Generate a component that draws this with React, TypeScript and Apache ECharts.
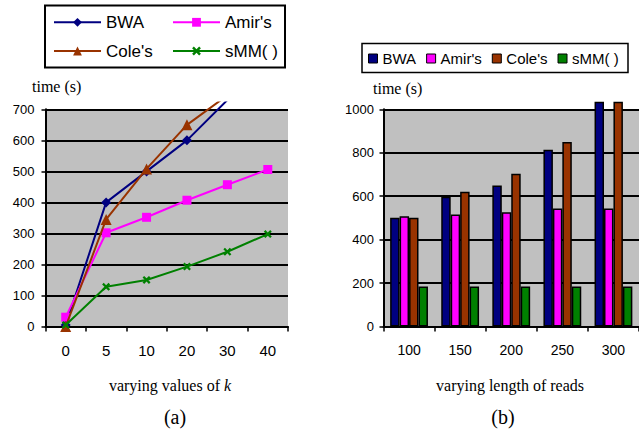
import React, { useEffect, useRef } from 'react';
import * as echarts from 'echarts';

const W = 639;
const H = 429;

// ---- data: chart (a) ----
const kLabels = ['0', '5', '10', '20', '30', '40'];
const bwaK = [5, 400, 500, 600, 730, 850];
const amirK = [30, 302, 352, 407, 457, 506];
const coleK = [0, 345, 508, 650, 745, 870];
const smmK = [5, 128, 150, 193, 241, 298];

// ---- data: chart (b) ----
const readLabels = ['100', '150', '200', '250', '300'];
const bwaR = [500, 597, 649, 814, 1300];
const amirR = [508, 515, 526, 543, 543];
const coleR = [500, 620, 703, 849, 1300];
const smmR = [184, 184, 184, 184, 184];

const names = ['BWA', "Amir's", "Cole's", 'sMM( )'];
const colors = ['#000080', '#FF00FF', '#993300', '#008000'];

const SANS = "'Liberation Sans', Arial, sans-serif";
const SERIF = "'Liberation Serif', 'Times New Roman', serif";
const X_MARK = 'path://M0,2L2,0L5,3L8,0L10,2L7,5L10,8L8,10L5,7L2,10L0,8L3,5Z';

const gridTop = 109.3;
const gridBottom = 102.5;
const clipTop = 102.5;

function buildOption() {
  const axisBlack = { color: '#000', width: 2 };
  const valueAxisVisible = (max: number, interval: number, margin: number) => ({
    type: 'value',
    min: 0,
    max,
    interval,
    axisLine: { show: true, lineStyle: axisBlack },
    axisTick: { show: true, length: 4, lineStyle: { color: '#000', width: 1.5 } },
    axisLabel: { color: '#000', fontSize: 13, fontFamily: SANS, margin, formatter: (v: number) => String(v) },
    splitLine: { show: true, lineStyle: axisBlack },
  });
  const catAxisVisible = (data: string[], fontSize: number, gridIndex: number) => ({
    type: 'category',
    gridIndex,
    data,
    boundaryGap: true,
    axisLine: { show: true, lineStyle: axisBlack },
    axisTick: { show: true, length: 5, interval: 0, lineStyle: { color: '#000', width: 1.5 } },
    axisLabel: { color: '#000', fontSize, fontFamily: SANS, margin: 16, interval: 0 },
    splitLine: { show: false },
  });
  const hiddenCat = (data: string[], gridIndex: number) => ({
    type: 'category', gridIndex, data, boundaryGap: true, show: false,
  });
  const hiddenVal = (max: number, gridIndex: number) => ({
    type: 'value', gridIndex, min: 0, max, show: false, splitLine: { show: false },
  });

  const symbols = ['diamond', 'rect', 'triangle', X_MARK];
  const symbolSizes = [10, 9, 11, 8];
  const kData = [bwaK, amirK, coleK, smmK];
  const rData = [bwaR, amirR, coleR, smmR];

  const lineSeries = names.map((name, i) => ({
    type: 'line',
    name,
    xAxisIndex: 1,
    yAxisIndex: 1,
    data: kData[i],
    symbol: symbols[i],
    symbolSize: symbolSizes[i],
    showAllSymbol: true,
    clip: true,
    lineStyle: { color: colors[i], width: 2 },
    itemStyle: { color: colors[i] },
    z: 3 + i,
  }));

  const barSeries = names.map((name, i) => ({
    type: 'bar',
    name,
    xAxisIndex: 3,
    yAxisIndex: 3,
    data: rData[i],
    barGap: '0%',
    barCategoryGap: '26%',
    clip: true,
    itemStyle: { color: colors[i], borderColor: '#000', borderWidth: 1.5 },
  }));

  const legendText = (size: number) => ({ color: '#000', fontSize: size, fontFamily: SANS, lineHeight: size });

  return {
    animation: false,
    backgroundColor: '#fff',
    grid: [
      { left: 45.5, right: W - 288, top: gridTop, bottom: gridBottom, show: true, backgroundColor: '#C0C0C0', borderWidth: 0 },
      { left: 45.5, right: W - 288, top: clipTop, bottom: gridBottom, show: false },
      { left: 383.5, right: -10, top: gridTop, bottom: gridBottom, show: true, backgroundColor: '#C0C0C0', borderWidth: 0 },
      { left: 383.5, right: -10, top: clipTop, bottom: gridBottom, show: false },
    ],
    xAxis: [
      catAxisVisible(kLabels, 15, 0),
      hiddenCat(kLabels, 1),
      catAxisVisible(readLabels, 14, 2),
      hiddenCat(readLabels, 3),
    ],
    yAxis: [
      { ...valueAxisVisible(700, 100, 11), gridIndex: 0 },
      hiddenVal(722, 1),
      { ...valueAxisVisible(1000, 200, 9.5), gridIndex: 2 },
      hiddenVal(1031, 3),
    ],
    legend: [
      {
        data: ['BWA', "Cole's"],
        orient: 'vertical',
        left: 53,
        top: 13.8,
        padding: 0,
        itemWidth: 47,
        itemHeight: 11,
        itemGap: 11.7,
        selectedMode: false,
        textStyle: legendText(17),
      },
      {
        data: ["Amir's", 'sMM( )'],
        orient: 'vertical',
        left: 172,
        top: 13.8,
        padding: 0,
        itemWidth: 47,
        itemHeight: 11,
        itemGap: 11.7,
        selectedMode: false,
        textStyle: legendText(17),
      },
      {
        data: names.map((n) => ({ name: n, icon: 'rect' })),
        orient: 'horizontal',
        left: 368,
        top: 51,
        padding: 0,
        itemWidth: 9,
        itemHeight: 9,
        itemGap: 10,
        selectedMode: false,
        itemStyle: { borderColor: '#000', borderWidth: 1 },
        textStyle: legendText(15),
      },
    ],
    graphic: [
      { type: 'rect', shape: { x: 45, y: 5.5, width: 240, height: 62 }, style: { fill: 'none', stroke: '#000', lineWidth: 2 }, z: 10 },
      { type: 'rect', shape: { x: 362, y: 43.5, width: 266, height: 29 }, style: { fill: 'none', stroke: '#000', lineWidth: 1.5 }, z: 10 },
      { type: 'text', x: 32, y: 86.7, style: { text: 'time (s)', fill: '#000', font: `16px ${SERIF}`, textVerticalAlign: 'middle' } },
      { type: 'text', x: 373, y: 88.3, style: { text: 'time (s)', fill: '#000', font: `16px ${SERIF}`, textVerticalAlign: 'middle' } },
      {
        type: 'text', x: 170, y: 385,
        style: {
          text: '{n|varying values of }{i|k}',
          fill: '#000', textAlign: 'center', textVerticalAlign: 'middle',
          rich: {
            n: { fontFamily: SERIF, fontSize: 16, fill: '#000' },
            i: { fontFamily: SERIF, fontSize: 16, fontStyle: 'italic', fill: '#000' },
          },
        },
      },
      { type: 'text', x: 510, y: 385, style: { text: 'varying length of reads', fill: '#000', font: `16px ${SERIF}`, textAlign: 'center', textVerticalAlign: 'middle' } },
      { type: 'text', x: 175, y: 417, style: { text: '(a)', fill: '#000', font: `20px ${SERIF}`, textAlign: 'center', textVerticalAlign: 'middle' } },
      { type: 'text', x: 503, y: 417, style: { text: '(b)', fill: '#000', font: `20px ${SERIF}`, textAlign: 'center', textVerticalAlign: 'middle' } },
    ],
    series: [...lineSeries, ...barSeries],
  };
}

export default function App() {
  const ref = useRef<HTMLDivElement>(null);
  useEffect(() => {
    if (!ref.current) return;
    const chart = echarts.init(ref.current, null, { renderer: 'svg', width: W, height: H });
    chart.setOption(buildOption() as any);
    return () => chart.dispose();
  }, []);
  return <div ref={ref} style={{ position: 'absolute', left: 0, top: 0, width: W, height: H }} />;
}
